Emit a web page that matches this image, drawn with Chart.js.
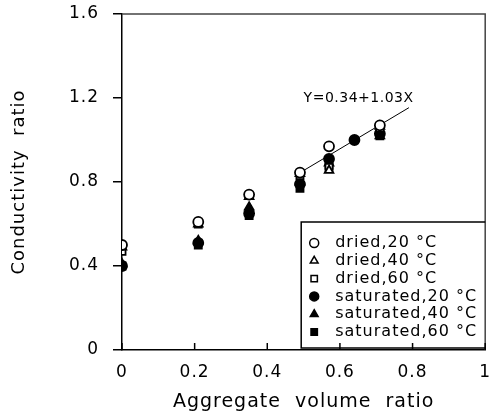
<!DOCTYPE html>
<html><head><meta charset="utf-8">
<script src="https://cdn.jsdelivr.net/npm/chart.js@4.4.1/dist/chart.umd.min.js"></script>
<style>html,body{margin:0;padding:0;background:#fff}</style>
</head><body>
<canvas id="c" width="492" height="417"></canvas>
<script>
// ---- data ----
const xTickValues = [0, 0.2, 0.4, 0.6, 0.8, 1];
const xTickLabels = ['0', '0.2', '0.4', '0.6', '0.8', '1'];
const yTickValues = [0, 0.4, 0.8, 1.2, 1.6];
const yTickLabels = ['0', '0.4', '0.8', '1.2', '1.6'];
const seriesNames = ['dried,20 °C', 'dried,40 °C', 'dried,60 °C', 'saturated,20 °C', 'saturated,40 °C', 'saturated,60 °C'];
const driedX = [0, 0.21, 0.35, 0.49, 0.57, 0.71];
const sat20X = [0, 0.21, 0.35, 0.49, 0.57, 0.64, 0.71];
const dried20 = [0.50, 0.61, 0.74, 0.845, 0.97, 1.07];
const dried40 = [0.49, 0.60, 0.73, 0.84, 0.855, 1.065];
const dried60 = [0.47, 0.60, 0.735, 0.83, 0.87, 1.055];
const sat20 = [0.40, 0.51, 0.65, 0.79, 0.91, 1.00, 1.03];
const sat40 = [0.41, 0.52, 0.68, 0.80, 0.89, 1.02];
const sat60 = [0.40, 0.50, 0.64, 0.77, 0.88, 1.02];
const fitX = [0.48, 0.79];
const fitY = [0.834, 1.154];
const fitLabel = 'Y=0.34+1.03X';
const xTitle = 'Aggregate  volume  ratio';
const yTitle = 'Conductivity  ratio';

const FONT = 'DejaVu Sans';
const pts = (xs, ys) => xs.map((x, i) => ({x, y: ys[i]}));
const styles = [
  {pointStyle: 'circle', fill: '#fff'},
  {pointStyle: 'triangle', fill: '#fff'},
  {pointStyle: 'rect', fill: '#fff'},
  {pointStyle: 'circle', fill: '#000'},
  {pointStyle: 'triangle', fill: '#000'},
  {pointStyle: 'rect', fill: '#000'}
];
const seriesData = [pts(driedX, dried20), pts(driedX, dried40), pts(driedX, dried60), pts(sat20X, sat20), pts(driedX, sat40), pts(driedX, sat60)];

const datasets = seriesData.map((d, i) => ({
  type: 'scatter', label: seriesNames[i], data: d,
  pointStyle: styles[i].pointStyle, pointRadius: 5, pointBorderWidth: 1.8,
  pointBackgroundColor: styles[i].fill, pointBorderColor: '#000', showLine: false
}));
datasets.push({type: 'line', label: 'fit', data: pts(fitX, fitY), borderColor: '#000', borderWidth: 1, pointRadius: 0, fill: false});

const spacing = {
  id: 'spacing',
  beforeLayout(c) { c.ctx.letterSpacing = '1px'; },
  beforeDraw(c) { c.ctx.letterSpacing = '1px'; }
};

const extras = {
  id: 'extras',
  afterDraw(c) {
    const ctx = c.ctx, a = c.chartArea, xs = c.scales.x, ys = c.scales.y;
    ctx.save();
    // frame top/right
    ctx.strokeStyle = '#444'; ctx.lineWidth = 1.5;
    ctx.beginPath();
    ctx.moveTo(a.left, a.top); ctx.lineTo(a.right, a.top); ctx.lineTo(a.right, a.bottom);
    ctx.stroke();
    // inward x ticks
    ctx.strokeStyle = '#000'; ctx.lineWidth = 1.5;
    xTickValues.forEach(v => {
      const px = xs.getPixelForValue(v);
      ctx.beginPath(); ctx.moveTo(px, a.bottom); ctx.lineTo(px, a.bottom - 7); ctx.stroke();
    });
    // fit label
    ctx.letterSpacing = '0.5px';
    ctx.fillStyle = '#000';
    ctx.font = '14px "' + FONT + '"';
    ctx.textAlign = 'left'; ctx.textBaseline = 'middle';
    ctx.fillText(fitLabel, xs.getPixelForValue(0.50), ys.getPixelForValue(1.2));
    // legend box
    ctx.letterSpacing = '1px';
    const right = a.right, bottom = a.bottom - 2, left = right - 184, top = bottom - 126;
    ctx.strokeStyle = '#000'; ctx.lineWidth = 1.5;
    ctx.beginPath();
    ctx.moveTo(right, top); ctx.lineTo(left, top); ctx.lineTo(left, bottom); ctx.lineTo(right, bottom);
    ctx.stroke();
    ctx.font = '16px "' + FONT + '"';
    seriesNames.forEach((name, i) => {
      const cy = top + 21 + i * 17.8;
      ctx.fillStyle = styles[i].fill; ctx.strokeStyle = '#000'; ctx.lineWidth = 1.5;
      Chart.helpers.drawPoint(ctx, {pointStyle: styles[i].pointStyle, radius: 4.5, borderWidth: 1.5, rotation: 0}, left + 13, cy);
      ctx.fillStyle = '#000';
      ctx.fillText(name, left + 34, cy);
    });
    ctx.restore();
  }
};

new Chart(document.getElementById('c'), {
  data: {datasets},
  plugins: [spacing, extras],
  options: {
    responsive: false, animation: false, devicePixelRatio: 1,
    layout: {padding: {top: 14, right: 5, left: 0, bottom: 0}},
    plugins: {legend: {display: false}, tooltip: {enabled: false}},
    scales: {
      x: {
        type: 'linear', min: 0, max: 1,
        afterBuildTicks: s => { s.ticks = xTickValues.map(v => ({value: v})); },
        afterFit: s => { s.height = 67; s.paddingRight = 0; s.paddingLeft = 0; },
        ticks: {callback: (v, i) => xTickLabels[i], color: '#000', font: {family: FONT, size: 17}, padding: 4, maxRotation: 0},
        grid: {display: false},
        border: {display: true, color: '#000', width: 1.5},
        title: {display: true, text: xTitle, color: '#000', font: {family: FONT, size: 19}, padding: {top: 4, bottom: 4}}
      },
      y: {
        type: 'linear', min: 0, max: 1.6,
        afterBuildTicks: s => { s.ticks = yTickValues.map(v => ({value: v})); },
        afterFit: s => { s.width = 122; s.paddingTop = 0; s.paddingBottom = 0; },
        ticks: {callback: (v, i) => yTickLabels[i], color: '#000', font: {family: FONT, size: 17}, padding: 14},
        grid: {drawOnChartArea: false, drawTicks: true, tickLength: 9, color: '#000', lineWidth: 1.5},
        border: {display: true, color: '#000', width: 1.5},
        title: {display: true, text: yTitle, color: '#000', font: {family: FONT, size: 18}, padding: {top: 9, bottom: 9}}
      }
    }
  }
});
</script>
</body></html>
